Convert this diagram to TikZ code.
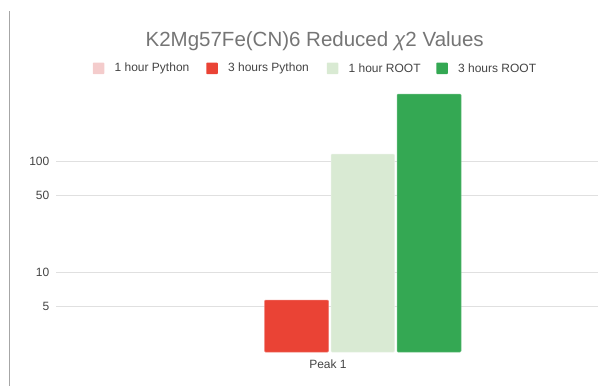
\documentclass[tikz,border=0pt]{standalone}
\usepackage{fontspec}
\setmainfont{Liberation Sans}
\usetikzlibrary{positioning}
\definecolor{rosado}{HTML}{F4CCCC}
\definecolor{rojo}{HTML}{EA4335}
\definecolor{menta}{HTML}{D9EAD3}
\definecolor{verde}{HTML}{34A853}
\definecolor{rejilla}{HTML}{E0E0E0}
\definecolor{rotulo}{HTML}{444444}
\definecolor{titulo}{HTML}{757575}

\begin{document}
\begin{tikzpicture}[x=1pt,y=-1pt,
    tick/.style={anchor=east,font=\fontsize{12}{14}\selectfont,text=rotulo,inner sep=0pt},
    swatch/.style={minimum size=11.5pt,inner sep=0pt,rounded corners=0.8pt},
    legtext/.style={right=10pt,font=\fontsize{12}{14}\selectfont,text=rotulo,inner sep=0pt},
    bar/.style={rounded corners=1pt,line width=0.5pt}]
        \useasboundingbox (0,0) rectangle (598,386);
        \draw[gray!70] (9.3,11) -- (9.3,386);
        % rejilla logaritmica
        \foreach \v/\y in {100/161,50/195,10/272.5,5/306}{
          \draw[rejilla,line width=0.8pt] (56,\y) -- (598,\y);
          \node[tick] at (49.5,\y) {\v};
        }
        \node[font=\fontsize{20.5}{24}\selectfont,text=titulo,anchor=base,inner sep=0pt] (titulo) at (314.7,46.7) {K2Mg57Fe(CN)6 Reduced \textit{χ}2 Values};
        % leyenda
        \node[swatch,fill=rosado] (s1) at (98.5,68.3) {};
        \node[legtext] (l1) at (s1.east) {1 hour Python};
        \node[swatch,fill=rojo] (s2) at (212,68.3) {};
        \node[legtext] (l2) at (s2.east) {3 hours Python};
        \node[swatch,fill=menta] (s3) at (332.5,68.3) {};
        \node[legtext] (l3) at (s3.east) {1 hour ROOT};
        \node[swatch,fill=verde] (s4) at (442,68.3) {};
        \node[legtext] (l4) at (s4.east) {3 hours ROOT};
        % barras
        \draw[bar,fill=rojo,draw=rojo!70!white] (264.5,352) rectangle (328.5,300);
        \draw[bar,fill=menta,draw=menta!60!white] (331,352) rectangle (394.5,154);
        \draw[bar,fill=verde,draw=verde!70!white] (397,352) rectangle (461,94);
        \node[font=\fontsize{12}{14}\selectfont,text=rotulo] (pico) at (328,364) {Peak 1};
      \end{tikzpicture}
\end{document}
